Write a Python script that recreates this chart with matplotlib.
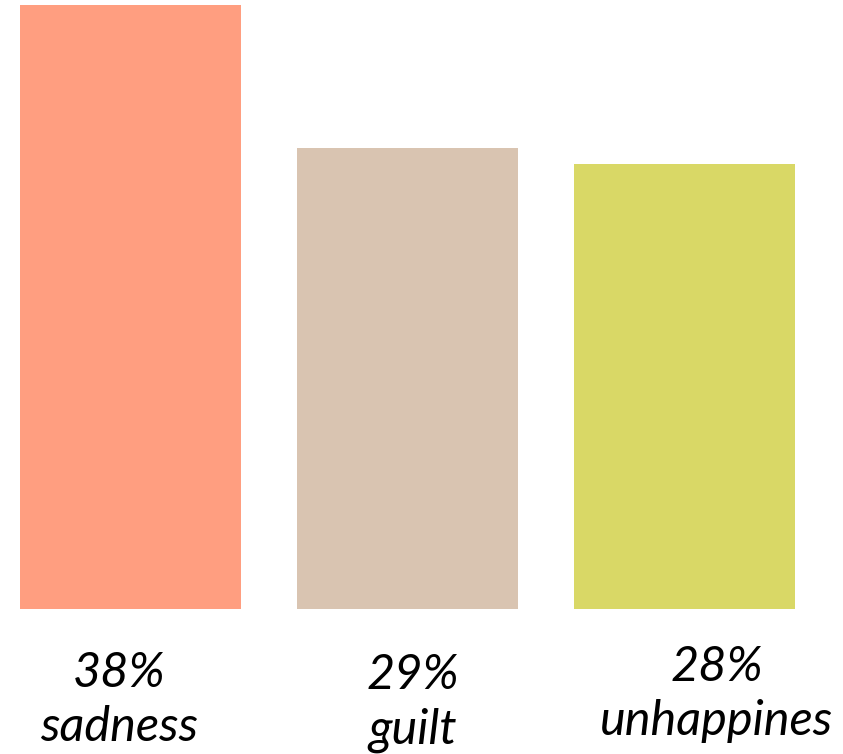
import matplotlib.pyplot as plt
import matplotlib.transforms as mtransforms

emotions = ['sadness', 'guilt', 'unhappines']
percents = [38, 29, 28]
bar_colors = ['#FF9E80', '#D9C4B1', '#D9D866']
label_shift = [-0.043, 0.018, 0.116]
label_drop = [-0.069, -0.073, -0.059]

fig = plt.figure(figsize=(8.43, 7.54), dpi=100)
ax = fig.add_axes([20 / 843, 145 / 754, 775 / 843, 604 / 754])

positions = list(range(len(emotions)))
ax.bar(positions, percents, width=0.8, color=bar_colors)
ax.set_xlim(-0.4, 2.4)
ax.set_ylim(0, 38)
ax.axis('off')

trans = mtransforms.blended_transform_factory(ax.transData, ax.transAxes)
for i in positions:
    ax.text(positions[i] + label_shift[i], label_drop[i], f"{percents[i]}%\n{emotions[i]}",
            transform=trans, ha='center', va='top', fontsize=35,
            family=['Lato', 'DejaVu Sans'], style='italic', linespacing=1.3,
            clip_on=False)

fig.savefig('out.png', dpi=100)
